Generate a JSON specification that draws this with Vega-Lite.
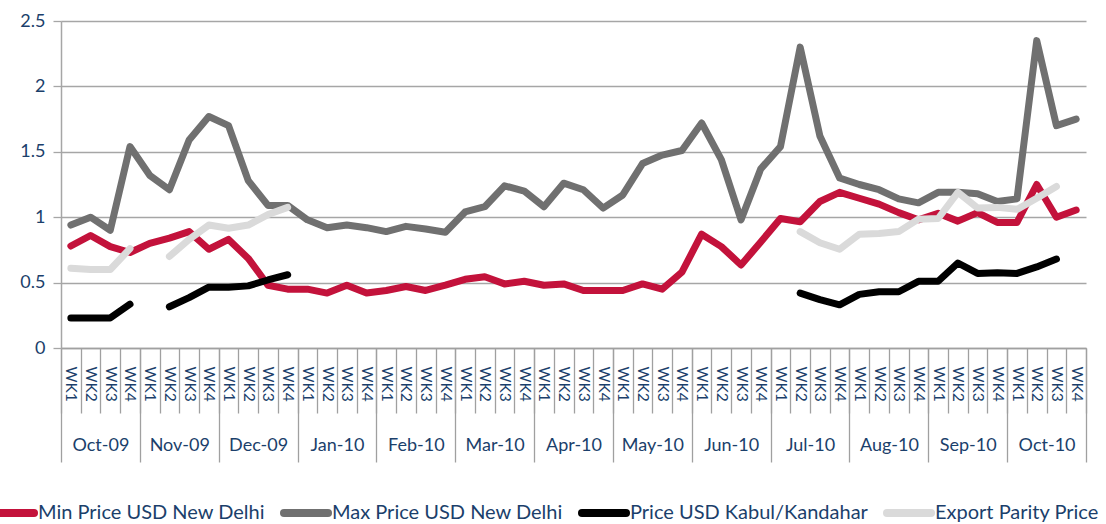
{
  "$schema": "https://vega.github.io/schema/vega-lite/v6.json",
  "autosize": "none",
  "width": 1025,
  "height": 327,
  "padding": {"left": 61, "top": 21, "right": 20, "bottom": 176},
  "background": "white",
  "config": {"font": "Lato", "view": {"stroke": null}},
  "layer": [
    {
      "data": {"values": [
        {"m": "Oct-09"}, {"m": "Nov-09"}, {"m": "Dec-09"}, {"m": "Jan-10"}, {"m": "Feb-10"}, {"m": "Mar-10"}, {"m": "Apr-10"},
        {"m": "May-10"}, {"m": "Jun-10"}, {"m": "Jul-10"}, {"m": "Aug-10"}, {"m": "Sep-10"}, {"m": "Oct-10"}
      ]},
      "mark": {"type": "point", "opacity": 0},
      "encoding": {
        "x": {
          "field": "m", "type": "ordinal", "sort": null,
          "scale": {"type": "band", "paddingInner": 0, "paddingOuter": 0},
          "axis": {
            "orient": "bottom", "title": null, "domain": false,
            "tickBand": "extent", "tickSize": 114, "tickColor": "#A0A0A0", "tickWidth": 1.3,
            "labelAngle": 0, "labelBaseline": "middle", "labelPadding": -17,
            "labelFontSize": 18, "labelColor": "#1B3F6B", "labelOverlap": false
          }
        }
      }
    },
    {
      "encoding": {
        "x": {
          "field": "k", "type": "ordinal",
          "scale": {"type": "band", "paddingInner": 0, "paddingOuter": 0},
          "axis": {
            "orient": "bottom", "title": null, "domain": true, "domainColor": "#A0A0A0", "domainWidth": 1.3,
            "tickBand": "extent", "tickSize": 65, "tickColor": "#A0A0A0", "tickWidth": 1.3,
            "labelExpr": "substring(datum.label, 8)",
            "labelAngle": 90, "labelAlign": "left", "labelBaseline": "middle", "labelPadding": -47,
            "labelFontSize": 15.5, "labelColor": "#1B3F6B", "labelOverlap": false
          }
        },
        "y": {
          "field": "v", "type": "quantitative",
          "scale": {"domain": [0, 2.5], "nice": false},
          "axis": {
            "title": null, "values": [0, 0.5, 1, 1.5, 2, 2.5], "format": "~g",
            "grid": true, "gridColor": "#A6A6A6", "gridWidth": 1.3,
            "domainColor": "#A6A6A6", "domainWidth": 1.5,
            "tickColor": "#A6A6A6", "tickSize": 8, "tickWidth": 1.3,
            "labelPadding": 8, "labelFontSize": 18, "labelColor": "#1B3F6B"
          }
        }
      },
      "layer": [
        {
          "data": {"values": [
            {"k": "2009-10 WK1", "v": 0.78}, {"k": "2009-10 WK2", "v": 0.86}, {"k": "2009-10 WK3", "v": 0.775}, {"k": "2009-10 WK4", "v": 0.73},
            {"k": "2009-11 WK1", "v": 0.80}, {"k": "2009-11 WK2", "v": 0.84}, {"k": "2009-11 WK3", "v": 0.89}, {"k": "2009-11 WK4", "v": 0.755},
            {"k": "2009-12 WK1", "v": 0.83}, {"k": "2009-12 WK2", "v": 0.685}, {"k": "2009-12 WK3", "v": 0.48}, {"k": "2009-12 WK4", "v": 0.45},
            {"k": "2010-01 WK1", "v": 0.45}, {"k": "2010-01 WK2", "v": 0.42}, {"k": "2010-01 WK3", "v": 0.48}, {"k": "2010-01 WK4", "v": 0.42},
            {"k": "2010-02 WK1", "v": 0.44}, {"k": "2010-02 WK2", "v": 0.47}, {"k": "2010-02 WK3", "v": 0.44}, {"k": "2010-02 WK4", "v": 0.48},
            {"k": "2010-03 WK1", "v": 0.525}, {"k": "2010-03 WK2", "v": 0.545}, {"k": "2010-03 WK3", "v": 0.49}, {"k": "2010-03 WK4", "v": 0.51},
            {"k": "2010-04 WK1", "v": 0.48}, {"k": "2010-04 WK2", "v": 0.49}, {"k": "2010-04 WK3", "v": 0.44}, {"k": "2010-04 WK4", "v": 0.44},
            {"k": "2010-05 WK1", "v": 0.44}, {"k": "2010-05 WK2", "v": 0.49}, {"k": "2010-05 WK3", "v": 0.45}, {"k": "2010-05 WK4", "v": 0.58},
            {"k": "2010-06 WK1", "v": 0.87}, {"k": "2010-06 WK2", "v": 0.775}, {"k": "2010-06 WK3", "v": 0.635}, {"k": "2010-06 WK4", "v": 0.81},
            {"k": "2010-07 WK1", "v": 0.99}, {"k": "2010-07 WK2", "v": 0.965}, {"k": "2010-07 WK3", "v": 1.12}, {"k": "2010-07 WK4", "v": 1.19},
            {"k": "2010-08 WK1", "v": 1.145}, {"k": "2010-08 WK2", "v": 1.10}, {"k": "2010-08 WK3", "v": 1.035}, {"k": "2010-08 WK4", "v": 0.98},
            {"k": "2010-09 WK1", "v": 1.03}, {"k": "2010-09 WK2", "v": 0.97}, {"k": "2010-09 WK3", "v": 1.035}, {"k": "2010-09 WK4", "v": 0.96},
            {"k": "2010-10 WK1", "v": 0.96}, {"k": "2010-10 WK2", "v": 1.25}, {"k": "2010-10 WK3", "v": 1.00}, {"k": "2010-10 WK4", "v": 1.055}
          ]},
          "mark": {"type": "line", "strokeWidth": 7, "strokeCap": "round", "strokeJoin": "round", "invalid": "break-paths-show-domains"},
          "encoding": {
            "color": {
              "datum": "Min Price USD New Delhi", "type": "nominal",
              "scale": {
                "domain": ["Min Price USD New Delhi", "Max Price USD New Delhi", "Price USD Kabul/Kandahar", "Export Parity Price"],
                "range": ["#C3123B", "#707070", "#000000", "#DADADA"]
              },
              "legend": {
                "title": null, "orient": "none", "legendX": -75, "legendY": 466,
                "direction": "horizontal", "columns": 4,
                "symbolType": "stroke", "symbolSize": 1936, "symbolStrokeWidth": 8,
                "labelFontSize": 20, "labelColor": "#1B3F6B", "labelOffset": 0,
                "columnPadding": 3, "labelLimit": 0, "padding": 0,
                "encode": {"symbols": {"update": {"strokeCap": {"value": "round"}}}}
              }
            }
          }
        },
        {
          "data": {"values": [
            {"k": "2009-10 WK1", "v": 0.94}, {"k": "2009-10 WK2", "v": 1.00}, {"k": "2009-10 WK3", "v": 0.90}, {"k": "2009-10 WK4", "v": 1.54},
            {"k": "2009-11 WK1", "v": 1.32}, {"k": "2009-11 WK2", "v": 1.21}, {"k": "2009-11 WK3", "v": 1.59}, {"k": "2009-11 WK4", "v": 1.77},
            {"k": "2009-12 WK1", "v": 1.70}, {"k": "2009-12 WK2", "v": 1.28}, {"k": "2009-12 WK3", "v": 1.09}, {"k": "2009-12 WK4", "v": 1.09},
            {"k": "2010-01 WK1", "v": 0.98}, {"k": "2010-01 WK2", "v": 0.92}, {"k": "2010-01 WK3", "v": 0.94}, {"k": "2010-01 WK4", "v": 0.92},
            {"k": "2010-02 WK1", "v": 0.89}, {"k": "2010-02 WK2", "v": 0.93}, {"k": "2010-02 WK3", "v": 0.91}, {"k": "2010-02 WK4", "v": 0.885},
            {"k": "2010-03 WK1", "v": 1.04}, {"k": "2010-03 WK2", "v": 1.08}, {"k": "2010-03 WK3", "v": 1.24}, {"k": "2010-03 WK4", "v": 1.20},
            {"k": "2010-04 WK1", "v": 1.08}, {"k": "2010-04 WK2", "v": 1.26}, {"k": "2010-04 WK3", "v": 1.21}, {"k": "2010-04 WK4", "v": 1.07},
            {"k": "2010-05 WK1", "v": 1.17}, {"k": "2010-05 WK2", "v": 1.41}, {"k": "2010-05 WK3", "v": 1.475}, {"k": "2010-05 WK4", "v": 1.51},
            {"k": "2010-06 WK1", "v": 1.72}, {"k": "2010-06 WK2", "v": 1.44}, {"k": "2010-06 WK3", "v": 0.98}, {"k": "2010-06 WK4", "v": 1.37},
            {"k": "2010-07 WK1", "v": 1.54}, {"k": "2010-07 WK2", "v": 2.30}, {"k": "2010-07 WK3", "v": 1.62}, {"k": "2010-07 WK4", "v": 1.30},
            {"k": "2010-08 WK1", "v": 1.25}, {"k": "2010-08 WK2", "v": 1.21}, {"k": "2010-08 WK3", "v": 1.14}, {"k": "2010-08 WK4", "v": 1.11},
            {"k": "2010-09 WK1", "v": 1.19}, {"k": "2010-09 WK2", "v": 1.19}, {"k": "2010-09 WK3", "v": 1.18}, {"k": "2010-09 WK4", "v": 1.12},
            {"k": "2010-10 WK1", "v": 1.14}, {"k": "2010-10 WK2", "v": 2.35}, {"k": "2010-10 WK3", "v": 1.70}, {"k": "2010-10 WK4", "v": 1.75}
          ]},
          "mark": {"type": "line", "strokeWidth": 7, "strokeCap": "round", "strokeJoin": "round", "invalid": "break-paths-show-domains"},
          "encoding": {"color": {"datum": "Max Price USD New Delhi", "type": "nominal"}}
        },
        {
          "data": {"values": [
            {"k": "2009-10 WK1", "v": 0.23}, {"k": "2009-10 WK2", "v": 0.23}, {"k": "2009-10 WK3", "v": 0.23}, {"k": "2009-10 WK4", "v": 0.335},
            {"k": "2009-11 WK1", "v": null}, {"k": "2009-11 WK2", "v": 0.315}, {"k": "2009-11 WK3", "v": 0.385}, {"k": "2009-11 WK4", "v": 0.465},
            {"k": "2009-12 WK1", "v": 0.465}, {"k": "2009-12 WK2", "v": 0.475}, {"k": "2009-12 WK3", "v": 0.52}, {"k": "2009-12 WK4", "v": 0.56},
            {"k": "2010-01 WK1", "v": null},
            {"k": "2010-07 WK2", "v": 0.42}, {"k": "2010-07 WK3", "v": 0.37}, {"k": "2010-07 WK4", "v": 0.33},
            {"k": "2010-08 WK1", "v": 0.41}, {"k": "2010-08 WK2", "v": 0.43}, {"k": "2010-08 WK3", "v": 0.43}, {"k": "2010-08 WK4", "v": 0.51},
            {"k": "2010-09 WK1", "v": 0.51}, {"k": "2010-09 WK2", "v": 0.65}, {"k": "2010-09 WK3", "v": 0.57}, {"k": "2010-09 WK4", "v": 0.575},
            {"k": "2010-10 WK1", "v": 0.57}, {"k": "2010-10 WK2", "v": 0.62}, {"k": "2010-10 WK3", "v": 0.68}
          ]},
          "mark": {"type": "line", "strokeWidth": 7, "strokeCap": "round", "strokeJoin": "round", "invalid": "break-paths-show-domains"},
          "encoding": {"color": {"datum": "Price USD Kabul/Kandahar", "type": "nominal"}}
        },
        {
          "data": {"values": [
            {"k": "2009-10 WK1", "v": 0.61}, {"k": "2009-10 WK2", "v": 0.60}, {"k": "2009-10 WK3", "v": 0.60}, {"k": "2009-10 WK4", "v": 0.76},
            {"k": "2009-11 WK1", "v": null}, {"k": "2009-11 WK2", "v": 0.70}, {"k": "2009-11 WK3", "v": 0.83}, {"k": "2009-11 WK4", "v": 0.94},
            {"k": "2009-12 WK1", "v": 0.915}, {"k": "2009-12 WK2", "v": 0.94}, {"k": "2009-12 WK3", "v": 1.02}, {"k": "2009-12 WK4", "v": 1.075},
            {"k": "2010-01 WK1", "v": null},
            {"k": "2010-07 WK2", "v": 0.89}, {"k": "2010-07 WK3", "v": 0.805}, {"k": "2010-07 WK4", "v": 0.755},
            {"k": "2010-08 WK1", "v": 0.87}, {"k": "2010-08 WK2", "v": 0.875}, {"k": "2010-08 WK3", "v": 0.89}, {"k": "2010-08 WK4", "v": 0.985},
            {"k": "2010-09 WK1", "v": 0.99}, {"k": "2010-09 WK2", "v": 1.19}, {"k": "2010-09 WK3", "v": 1.07}, {"k": "2010-09 WK4", "v": 1.075},
            {"k": "2010-10 WK1", "v": 1.06}, {"k": "2010-10 WK2", "v": 1.145}, {"k": "2010-10 WK3", "v": 1.235}
          ]},
          "mark": {"type": "line", "strokeWidth": 7, "strokeCap": "round", "strokeJoin": "round", "invalid": "break-paths-show-domains"},
          "encoding": {"color": {"datum": "Export Parity Price", "type": "nominal"}}
        }
      ]
    }
  ],
  "resolve": {"scale": {"x": "independent"}}
}
